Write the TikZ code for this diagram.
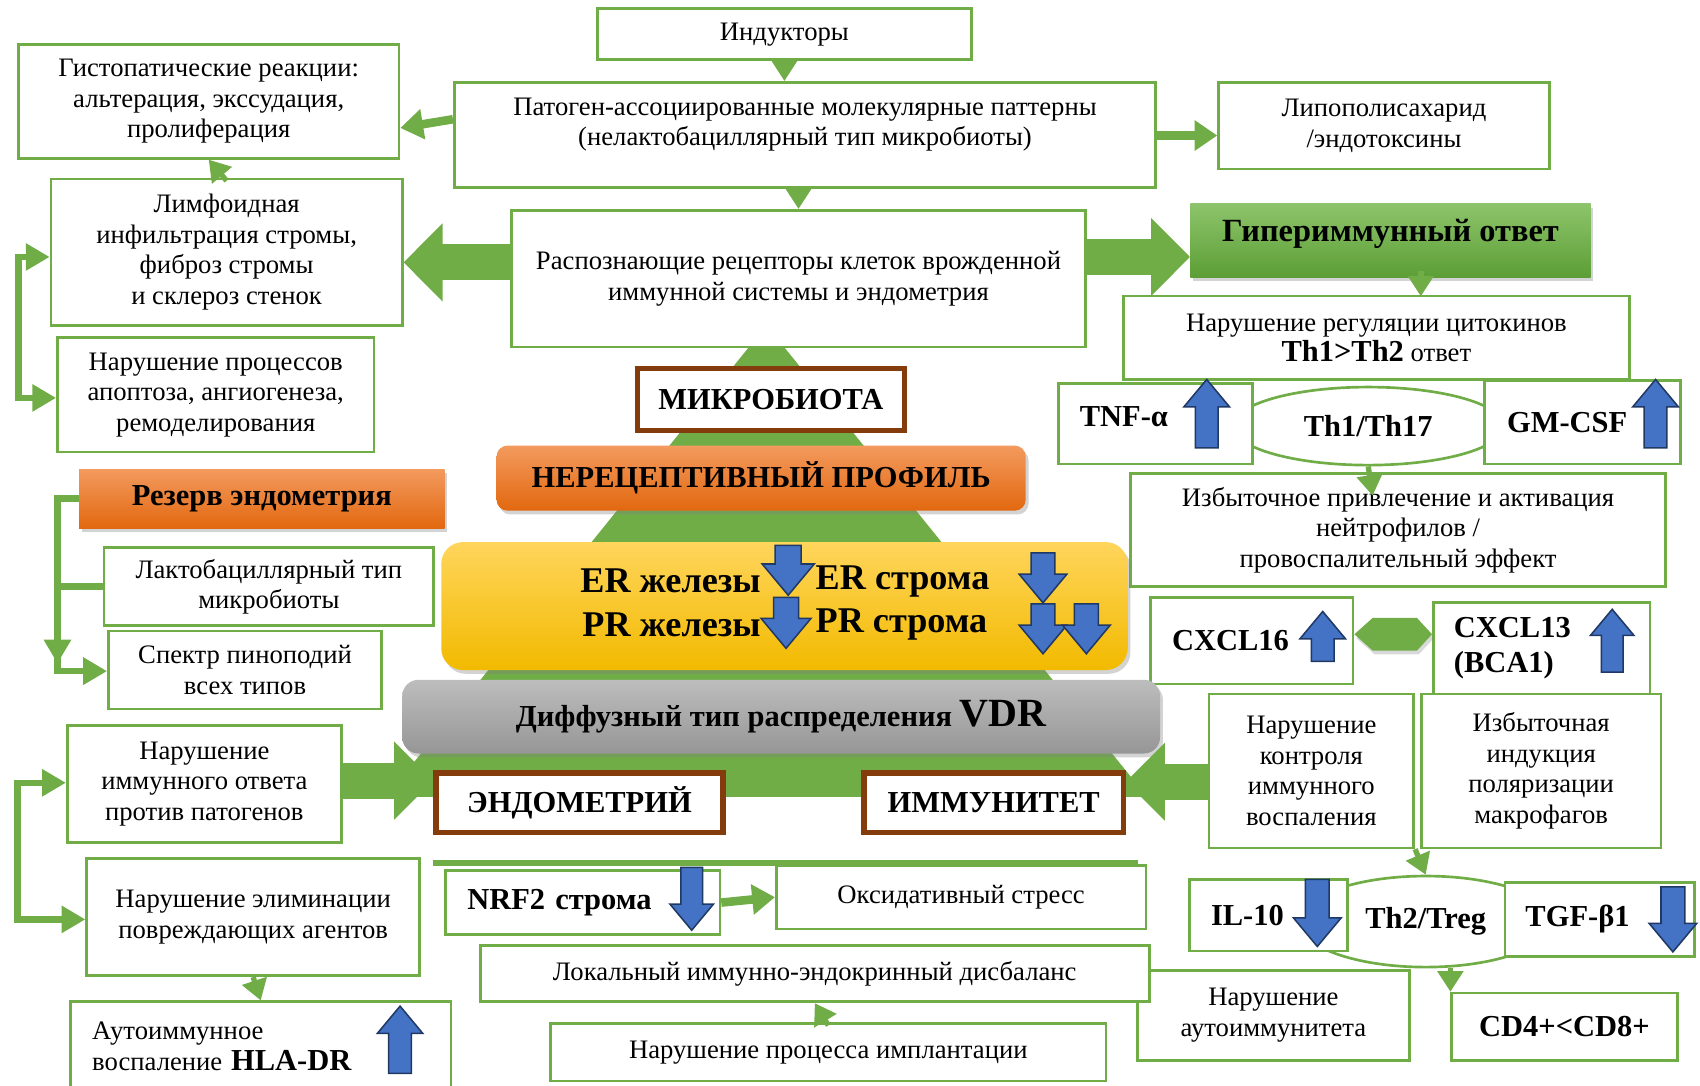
\documentclass[tikz,border=0pt]{standalone}
\usepackage{fontspec}
\setmainfont{Liberation Serif}
\usetikzlibrary{arrows.meta,calc,shapes.geometric,shadows}

\definecolor{grn}{HTML}{70AD47}
\definecolor{brn}{HTML}{843C0C}
\definecolor{blu}{HTML}{4472C4}
\definecolor{bluedge}{HTML}{203864}
\definecolor{orgtop}{HTML}{F39A5E}
\definecolor{orgbot}{HTML}{E2680F}
\definecolor{yeltop}{HTML}{FFD55C}
\definecolor{yelbot}{HTML}{F2BA00}
\definecolor{grytop}{HTML}{BDBDBD}
\definecolor{grybot}{HTML}{969696}
\definecolor{grntop}{HTML}{8DC46B}
\definecolor{grnbot}{HTML}{5C9E35}

\newcommand{\rmtxt}{\fontsize{14}{16}\selectfont}
\newcommand{\bftxt}{\fontsize{16}{18.5}\selectfont\bfseries}
\newcommand{\bigtxt}{\fontsize{19}{22}\selectfont\bfseries}
\newcommand{\hitxt}{\fontsize{17}{20}\selectfont\bfseries}

\begin{document}
\begin{tikzpicture}[x=0.02cm, y=-0.02cm,
  sz/.style 2 args={minimum width=#1*0.02cm, minimum height=#2*0.02cm},
  gbox/.style={draw=grn, line width=1.4pt, fill=white, inner sep=0pt, align=center, font=\rmtxt},
  lbox/.style={gbox, align=left, font=\bftxt, text width=#1},
  brbox/.style={draw=brn, line width=2.8pt, fill=white, inner sep=0pt, font=\bftxt},
  plate/.style={inner sep=0pt, font=\bftxt, drop shadow={shadow xshift=1.5pt, shadow yshift=-2pt, opacity=0.35}},
  oval/.style={ellipse, draw=grn, line width=1.4pt, inner sep=0pt, font=\bftxt},
  headarr/.style={draw=grn, line width=2.8pt, -{Triangle[width=0.46cm, length=0.38cm]}},
  midarr/.style={draw=grn, line width=4.5pt, -{Triangle[width=0.54cm, length=0.42cm]}},
  fatarr/.style={draw=grn, line width=0.66cm, -{Triangle[width=1.4cm, length=0.72cm]}},
  brk/.style={draw=grn, line width=3.4pt, >={Triangle[width=0.48cm, length=0.44cm]}},
  pics/bup/.style n args={2}{code={
    \filldraw[fill=blu, draw=bluedge, line width=0.8pt] ({-#2/4},0) -- ({#2/4},0) -- ({#2/4},{0.6*#2-#1})
      -- ({#2/2},{0.6*#2-#1}) -- (0,{-#1}) -- ({-#2/2},{0.6*#2-#1}) -- ({-#2/4},{0.6*#2-#1}) -- cycle;}},
  pics/bdn/.style n args={2}{code={
    \filldraw[fill=blu, draw=bluedge, line width=0.8pt] ({-#2/4},0) -- ({#2/4},0) -- ({#2/4},{#1-0.6*#2})
      -- ({#2/2},{#1-0.6*#2}) -- (0,{#1}) -- ({-#2/2},{#1-0.6*#2}) -- ({-#2/4},{#1-0.6*#2}) -- cycle;}}]
  \useasboundingbox (0,0) rectangle (1568,1001);

  % pyramid
  \fill[grn] (707,300) -- (1058,735) -- (356,735) -- cycle;

  % top row
  \node[gbox, sz={345}{47}] (ind) at (723.5,31.5) {Индукторы};
  \node[gbox, sz={647}{97}, text depth=14pt] (pat) at (742.5,124.5) {Патоген-ассоциированные молекулярные паттерны\\(нелактобациллярный тип микробиоты)};
  \node[gbox, sz={305}{80}] (lipo) at (1276.5,116) {Липополисахарид\\/эндотоксины};
  \node[gbox, sz={351}{105}] (gist) at (192.5,93.5) {Гистопатические реакции:\\альтерация, экссудация,\\пролиферация};
  \node[gbox, sz={324}{135}] (lim) at (209,232.5) {Лимфоидная\\инфильтрация стромы,\\фиброз стромы\\и склероз стенок};
  \node[gbox, sz={292}{106}] (proc) at (199,364) {Нарушение процессов\\апоптоза, ангиогенеза,\\ремоделирования};
  \node[gbox, sz={529}{126}] (rec) at (736.5,257) {Распознающие рецепторы клеток врожденной\\иммунной системы и эндометрия};

  % right column
  \node[plate, sz={369}{68}, top color=grntop, bottom color=grnbot, font=\hitxt, text depth=11pt] (hyper) at (1282.5,222) {Гипериммунный ответ};
  \node[gbox, sz={467}{77}] (reg) at (1269.5,311.5) {Нарушение регуляции цитокинов\\{\bftxt Th1>Th2} ответ};
  \node[oval, minimum width=5cm, minimum height=1.44cm] (th1) at (1262,393) {Th1/Th17};
  \node[lbox=2.78cm, sz={179}{74}, text depth=8pt] (tnf) at (1065.5,391) {TNF-α};
  \node[lbox=2.78cm, sz={181}{77}] (gm) at (1459.5,389.5) {GM-CSF};
  \pic at (1113,413) {bup={63}{42}};
  \pic at (1527,413) {bup={63}{42}};
  \node[gbox, sz={493}{104}] (izb) at (1289.5,489) {Избыточное привлечение и активация\\нейтрофилов /\\провоспалительный эффект};
  \node[lbox=2.94cm, sz={187}{80}] (cx16) at (1154.5,591) {CXCL16};
  \node[lbox=3.24cm, sz={200}{84}] (cx13) at (1422,598) {CXCL13\\(BCA1)};
  \pic at (1220,610) {bup={46}{42}};
  \pic at (1487,620) {bup={58}{40}};
  \fill[grn, drop shadow={shadow xshift=1pt, shadow yshift=-2pt, opacity=0.3}] (cx16.east |- 0,585) -- (1266,570) -- (1307,570)
    -- (cx13.west |- 0,585) -- (1307,600) -- (1266,600) -- cycle;
  \node[gbox, sz={189}{142}] (kontr) at (1209.5,711) {Нарушение\\контроля\\иммунного\\воспаления};
  \node[gbox, sz={221}{142}] (makr) at (1421.5,711) {Избыточная\\индукция\\поляризации\\макрофагов};
  \node[oval, minimum width=4.68cm, minimum height=1.68cm] (th2) at (1315,850) {Th2/Treg};
  \node[lbox=2.12cm, sz={146}{66}] (il10) at (1170,844) {IL-10};
  \node[lbox=2.74cm, sz={175}{68}] (tgf) at (1475.5,848) {TGF-β1};
  \pic at (1215,811) {bdn={62}{44}};
  \pic at (1543,818) {bdn={60}{44}};
  \node[gbox, font=\bftxt, sz={208}{62}] (cd4) at (1443,947) {CD4+<CD8+};
  \node[gbox, sz={251}{83}] (autoim) at (1174.5,936.5) {Нарушение\\аутоиммунитета};

  % pyramid layers
  \node[brbox, sz={246}{57}] (micro) at (711,368.5) {МИКРОБИОТА};
  \node[plate, sz={488}{60}, rounded corners=0.2cm, top color=orgtop, bottom color=orgbot] (nerec) at (702,441) {НЕРЕЦЕПТИВНЫЙ ПРОФИЛЬ};
  \node[plate, sz={633}{118}, rounded corners=0.4cm, top color=yeltop, bottom color=yelbot] (yel) at (723.5,559) {};
  \node[font=\bigtxt, inner sep=0pt, anchor=east] (erg) at (702,536) {ER железы};
  \node[font=\bigtxt, inner sep=0pt, anchor=east] (prg) at (702,576) {PR железы};
  \node[font=\bigtxt, inner sep=0pt, anchor=west] (ers) at (752,536) {ER строма};
  \node[font=\bigtxt, inner sep=0pt, anchor=west] (prs) at (752,576) {PR строма};
  \pic at (727,503) {bdn={46}{48}};
  \pic at (725,551) {bdn={47}{46}};
  \pic at (962,510) {bdn={46}{44}};
  \pic at (962,557) {bdn={46}{44}};
  \pic at (1002,557) {bdn={46}{44}};
  \node[plate, sz={699}{68}, rounded corners=0.3cm, top color=grytop, bottom color=grybot] (gry) at (720.5,661) {Диффузный тип распределения {\fontsize{21}{24}\selectfont VDR}};
  \node[brbox, sz={265}{55}] (endo) at (534.5,740.5) {ЭНДОМЕТРИЙ};
  \node[brbox, sz={239}{55}] (immun) at (916.5,740.5) {ИММУНИТЕТ};

  % left column
  \node[plate, sz={337}{54}, top color=orgtop, bottom color=orgbot] (rez) at (241.5,460) {Резерв эндометрия};
  \node[gbox, sz={304}{72}] (lakto) at (248,541) {Лактобациллярный тип\\микробиоты};
  \node[gbox, sz={252}{72}] (spec) at (226,618) {Спектр пиноподий\\всех типов};
  \node[gbox, sz={253}{108}] (nim) at (188.5,723) {Нарушение\\иммунного ответа\\против патогенов};
  \node[gbox, sz={307}{108}] (elim) at (233.5,846) {Нарушение элиминации\\повреждающих агентов};
  \node[gbox, align=left, text width=6.22cm, sz={351}{82}] (hla) at (240.5,965) {Аутоиммунное\\воспаление {\bftxt HLA-DR}};
  \pic at (369,990) {bup={62}{42}};

  % bottom middle
  \draw[grn, line width=3.4pt] (399,796) -- (1050,796);
  \node[lbox=4.26cm, sz={253}{59}] (nrf) at (537.5,832.5) {NRF2 строма};
  \pic at (638,800) {bdn={58}{40}};
  \node[gbox, sz={341}{59}] (oks) at (886.5,827.5) {Оксидативный стресс};
  \node[gbox, sz={617}{52}] (lok) at (751.5,898) {Локальный иммунно-эндокринный дисбаланс};
  \node[gbox, sz={512}{53}] (impl) at (764,970.5) {Нарушение процесса имплантации};

  % connectors
  \draw[headarr] (ind.south) -- (ind.south |- pat.north);
  \draw[headarr] (rec.north |- pat.south) -- (rec.north);
  \draw[midarr] (pat.east |- 0,125) -- (lipo.west |- 0,125);
  \draw[midarr] (pat.west |- 0,110) -- (gist.east |- 0,118);
  \draw[headarr] ($(lim.north)+(0,3)$) -- (gist.south);
  \draw[fatarr] (rec.west |- 0,242) -- (lim.east |- 0,242);
  \draw[fatarr] (rec.east |- 0,237) -- (hyper.west |- 0,237);
  \draw[headarr] ($(hyper.south)+(28,-6)$) -- ($(hyper.south)+(28,17)$);
  \draw[headarr] (th1.south) -- ($(th1.south)+(4,27)$);
  \draw[headarr] (kontr.south east) -- (th2.north);
  \draw[headarr] (th2.south -| cd4.west) -- (cd4.north west);
  \draw[fatarr] (nim.east |- 0,720) -- (endo.west |- 0,720);
  \draw[fatarr] (kontr.west |- 0,721) -- (immun.east |- 0,721);
  \draw[midarr] (nrf.east) -- (oks.west);
  \draw[headarr] (elim.south) -- (hla.north);
  \draw[headarr] ($(impl.north)+(0,3)$) -- (lok.south);
  \draw[brk, <->] (lim.west |- 0,237) -| (17,300) |- (proc.west |- 0,367);
  \draw[brk, <->] (nim.west |- 0,722) -| (16,780) |- (elim.west |- 0,848);
  \draw[brk, ->] (rez.west) -| (53,619) -- (spec.west |- 0,619);
  \draw[brk] (53,541) -- (lakto.west |- 0,541);
  \draw[brk, ->] (53,570) -- (53,612);
\end{tikzpicture}
\end{document}
